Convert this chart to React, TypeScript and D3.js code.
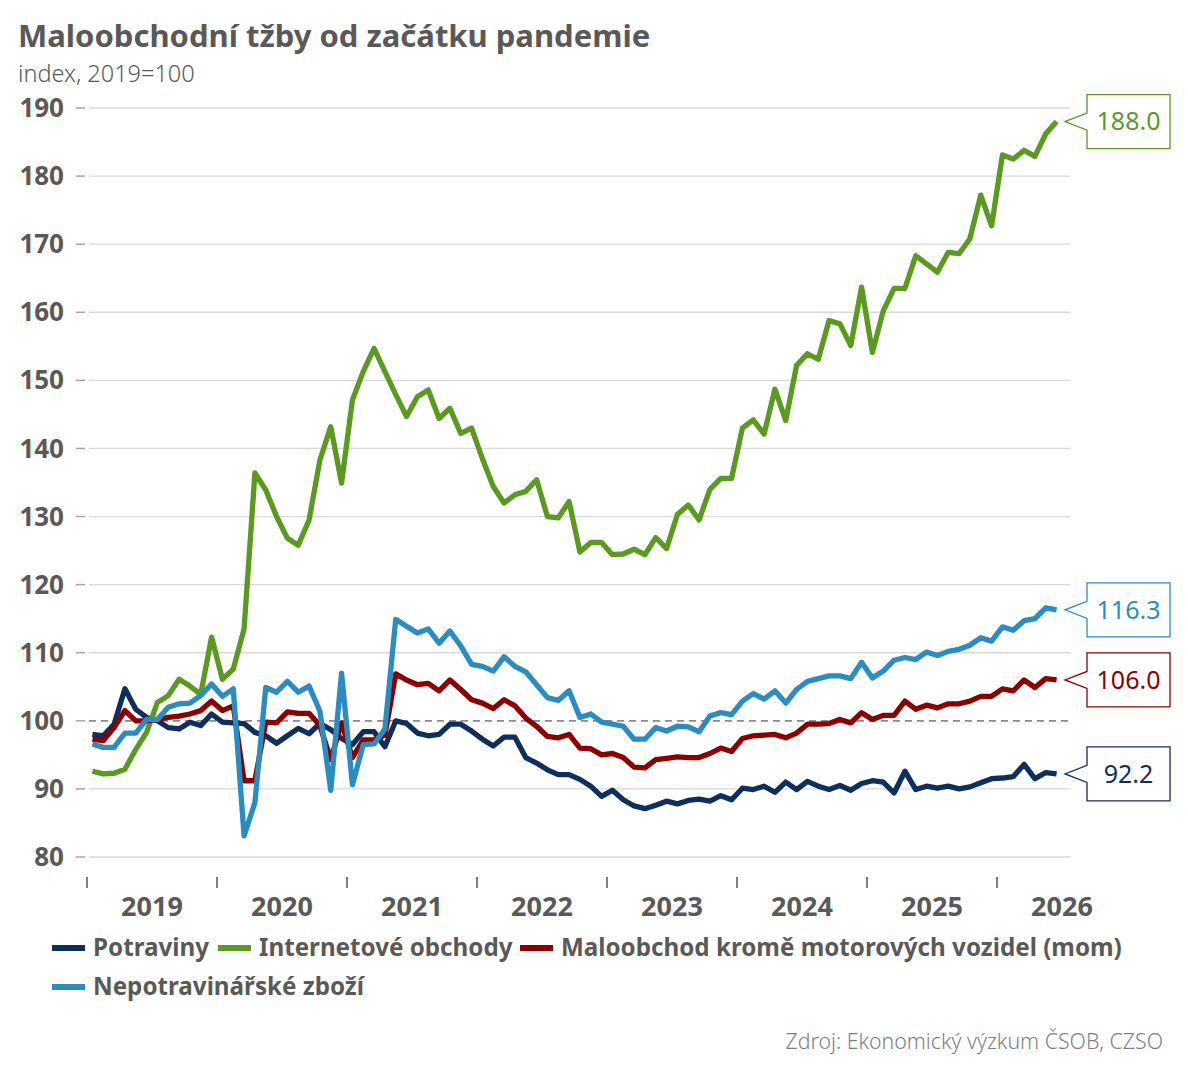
import * as d3 from 'd3';

const W = 1188;
const H = 1080;
const FONT = '"Segoe UI", "Noto Sans", "Open Sans", sans-serif';
const TEXT = '#595959';

const YEARS = ['2019', '2020', '2021', '2022', '2023', '2024', '2025', '2026'];
const Y_TICKS = [80, 90, 100, 110, 120, 130, 140, 150, 160, 170, 180, 190];

// monthly index values, 2019=100
const potraviny = [
  98.0, 97.8, 99.5, 104.7, 101.7, 100.5, 100.0, 99.0, 98.8, 99.8, 99.3, 101.0,
  99.8, 99.7, 99.6, 98.3, 97.8, 96.7, 97.8, 98.9, 98.1, 99.6, 98.7, 97.4,
  96.5, 98.4, 98.4, 96.2, 100.0, 99.6, 98.2, 97.8, 98.0, 99.5, 99.5, 98.5,
  97.3, 96.3, 97.6, 97.6, 94.6, 93.8, 92.8, 92.1, 92.1, 91.4, 90.4, 88.9,
  89.8, 88.4, 87.5, 87.1, 87.6, 88.2, 87.8, 88.3, 88.5, 88.2, 89.0, 88.4,
  90.1, 89.9, 90.4, 89.5, 91.0, 89.9, 91.1, 90.4, 89.9, 90.5, 89.8, 90.8,
  91.2, 91.0, 89.4, 92.6, 89.9, 90.4, 90.1, 90.4, 90.0, 90.3, 90.9, 91.5,
  91.6, 91.8, 93.6, 91.5, 92.4, 92.2,
];

const internet = [
  92.6, 92.2, 92.3, 92.9, 95.8, 98.3, 102.7, 103.7, 106.1, 105.1, 103.9, 112.3,
  106.1, 107.6, 113.5, 136.4, 133.9, 130.0, 126.8, 125.8, 129.5, 138.3, 143.2, 134.9,
  147.1, 151.3, 154.7, 151.3, 147.9, 144.7, 147.6, 148.6, 144.4, 145.9, 142.2, 143.0,
  138.5, 134.4, 132.0, 133.2, 133.7, 135.4, 130.0, 129.8, 132.2, 124.8, 126.2, 126.2,
  124.4, 124.5, 125.2, 124.4, 126.9, 125.3, 130.3, 131.7, 129.5, 134.0, 135.6, 135.6,
  143.0, 144.2, 142.1, 148.7, 144.1, 152.2, 153.9, 153.1, 158.8, 158.3, 155.1, 163.7,
  154.1, 160.2, 163.5, 163.5, 168.3, 167.1, 165.9, 168.8, 168.6, 170.8, 177.2, 172.7,
  183.1, 182.5, 183.8, 182.9, 186.2, 188.0,
];

const maloobchod = [
  97.3, 97.1, 99.0, 101.5, 100.0, 100.0, 100.2, 100.5, 100.7, 101.0, 101.5, 102.9,
  101.5, 102.2, 91.2, 91.2, 99.8, 99.7, 101.3, 101.1, 101.1, 99.3, 94.3, 99.7,
  94.6, 97.2, 97.2, 97.9, 106.9, 106.0, 105.3, 105.5, 104.4, 106.0, 104.6, 103.1,
  102.6, 101.8, 103.1, 102.2, 100.4, 99.2, 97.7, 97.5, 98.0, 96.0, 95.9, 95.0,
  95.2, 94.6, 93.2, 93.1, 94.3, 94.5, 94.7, 94.6, 94.6, 95.2, 96.0, 95.5,
  97.4, 97.8, 97.9, 98.0, 97.5, 98.2, 99.5, 99.5, 99.6, 100.2, 99.7, 101.2,
  100.2, 100.8, 100.8, 102.9, 101.7, 102.3, 101.9, 102.5, 102.5, 102.9, 103.6, 103.6,
  104.7, 104.4, 106.0, 104.9, 106.2, 106.0,
];

const nepotravinarske = [
  96.6, 96.1, 96.1, 98.2, 98.2, 100.2, 100.2, 102.0, 102.5, 102.6, 103.7, 105.4,
  103.6, 104.7, 83.1, 88.0, 104.9, 104.2, 105.8, 104.2, 105.1, 101.4, 89.8, 107.0,
  90.6, 96.5, 96.6, 98.8, 114.9, 113.9, 112.9, 113.5, 111.4, 113.2, 111.0, 108.3,
  108.0, 107.3, 109.4, 108.0, 107.2, 105.3, 103.4, 103.0, 104.4, 100.5, 101.0, 99.8,
  99.5, 99.2, 97.3, 97.3, 99.0, 98.5, 99.2, 99.1, 98.4, 100.7, 101.2, 100.9,
  102.9, 104.0, 103.2, 104.4, 102.6, 104.6, 105.8, 106.2, 106.6, 106.6, 106.2, 108.6,
  106.3, 107.3, 108.9, 109.3, 109.0, 110.1, 109.6, 110.2, 110.5, 111.1, 112.2, 111.7,
  113.8, 113.3, 114.7, 115.0, 116.6, 116.3,
];

const SERIES = [
  { name: 'Potraviny', values: potraviny, color: '#0e2f5c', label: '92.2' },
  { name: 'Internetové obchody', values: internet, color: '#5a9a1f', label: '188.0' },
  { name: 'Maloobchod kromě motorových vozidel (mom)', values: maloobchod, color: '#8e0000', label: '106.0' },
  { name: 'Nepotravinářské zboží', values: nepotravinarske, color: '#2a8dc1', label: '116.3' },
];

const PLOT = { left: 87, right: 1070, top: 108, bottom: 857 };

export default function App() {
  const x = d3.scaleLinear().domain([-0.5, YEARS.length * 12 - 0.5]).range([PLOT.left, PLOT.left + 130 * YEARS.length]);
  const y = d3.scaleLinear().domain([80, 190]).range([PLOT.bottom, PLOT.top]);

  const line = d3
    .line<number>()
    .x((_, i) => x(i))
    .y((d) => y(d));

  const boxX0 = 1087;
  const boxX1 = 1170;
  const tipX = 1065;

  const legendRows = [
    [
      { s: SERIES[0], x: 52 },
      { s: SERIES[1], x: 218 },
      { s: SERIES[2], x: 520 },
    ],
    [{ s: SERIES[3], x: 52 }],
  ];

  return (
    <div style={{ position: 'absolute', left: 0, top: 0 }}>
      <svg width={W} height={H} viewBox={`0 0 ${W} ${H}`} style={{ display: 'block', background: '#fff' }} fontFamily={FONT}>
        <text x={18} y={47} fontSize={31} fontWeight={700} fill={TEXT}>
          Maloobchodní tžby od začátku pandemie
        </text>
        <text x={18} y={82} fontSize={23.5} fontWeight={300} fill={TEXT}>
          index, 2019=100
        </text>

        {/* y grid + labels */}
        {Y_TICKS.map((t) => (
          <g key={t}>
            {t !== 100 && (
              <line x1={PLOT.left + 2} x2={PLOT.right} y1={y(t)} y2={y(t)} stroke="#d9d9d9" strokeWidth={1.3} />
            )}
            <line x1={76} x2={85} y1={y(t)} y2={y(t)} stroke="#a6a6a6" strokeWidth={1.5} />
            <text x={64} y={y(t)} dy="0.35em" textAnchor="end" fontSize={26} fontWeight={700} fill={TEXT}>
              {t}
            </text>
          </g>
        ))}
        <line
          x1={PLOT.left + 2}
          x2={PLOT.right}
          y1={y(100)}
          y2={y(100)}
          stroke="#8c8c8c"
          strokeWidth={1.8}
          strokeDasharray="7 5"
        />

        {/* x axis */}
        {YEARS.map((yr, k) => (
          <g key={yr}>
            <line x1={x(k * 12 - 0.5)} x2={x(k * 12 - 0.5)} y1={877} y2={888} stroke="#808080" strokeWidth={2} />
            <text x={x(k * 12 + 5.5)} y={907} dy="0.35em" textAnchor="middle" fontSize={27} fontWeight={700} fill={TEXT}>
              {yr}
            </text>
          </g>
        ))}

        {/* series */}
        {SERIES.map((s) => (
          <path
            key={s.name}
            d={line(s.values) ?? ''}
            fill="none"
            stroke={s.color}
            strokeWidth={5.3}
            strokeLinejoin="round"
          />
        ))}

        {/* end callouts */}
        {SERIES.map((s) => {
          const last = s.values[s.values.length - 1];
          const cy = y(last);
          const d = `M${boxX0},${cy - 27} H${boxX1} V${cy + 27} H${boxX0} V${cy + 8.5} L${tipX},${cy} L${boxX0},${cy - 8.5} Z`;
          return (
            <g key={`c-${s.name}`}>
              <path d={d} fill="#fff" stroke={s.color} strokeWidth={1.3} />
              <text x={(boxX0 + boxX1) / 2} y={cy} dy="0.35em" textAnchor="middle" fontSize={25} fill={s.color}>
                {s.label}
              </text>
            </g>
          );
        })}

        {/* legend */}
        {legendRows.map((row, r) =>
          row.map(({ s, x: lx }) => (
            <g key={`l-${s.name}`} transform={`translate(${lx},${948 + r * 39})`}>
              <line x1={0} x2={33} y1={0} y2={0} stroke={s.color} strokeWidth={6} />
              <text x={41} y={0} dy="0.35em" fontSize={24.2} fontWeight={700} fill={TEXT}>
                {s.name}
              </text>
            </g>
          )),
        )}

        <text x={1163} y={1042} dy="0.35em" textAnchor="end" fontSize={21.3} fontWeight={300} fill="#7f7f7f">
          Zdroj: Ekonomický výzkum ČSOB, CZSO
        </text>
      </svg>
    </div>
  );
}
